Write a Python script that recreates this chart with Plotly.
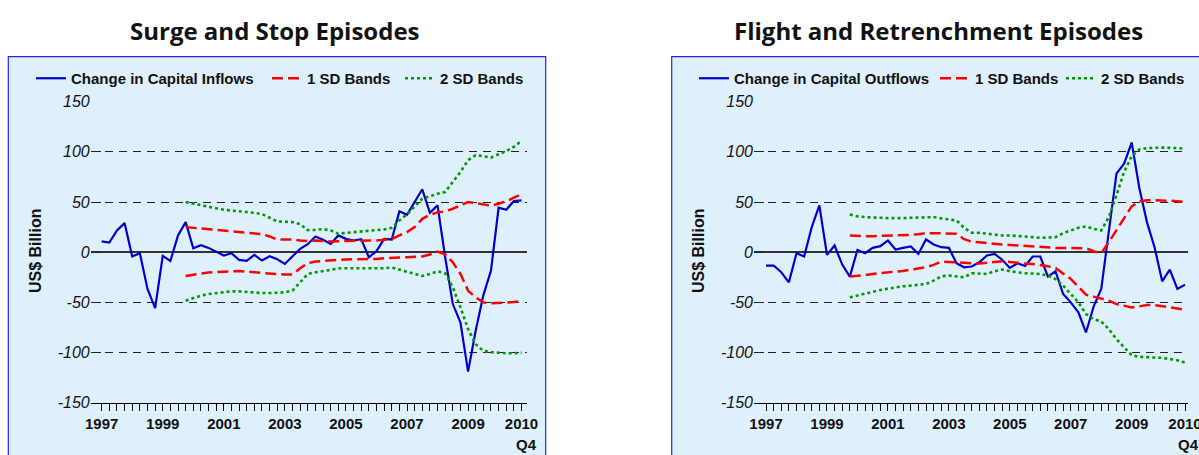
import plotly.graph_objects as go

OFF = 0                      # body margin is removed by the post script below
W, H = 1199, 455

quarters = [f"{y}Q{q}" for y in range(1997, 2011) for q in range(1, 5)]
band_quarters = quarters[11:]

tick_labels = {"1997Q1": "1997", "1999Q1": "1999", "2001Q1": "2001", "2003Q1": "2003",
               "2005Q1": "2005", "2007Q1": "2007", "2009Q1": "2009", "2010Q4": "2010"}
y_ticks = [-150, -100, -50, 0, 50, 100, 150]
y_ticktext = ["-150", "-100", "-50", "0", "50", "100", "150"]

inflows = [10.7, 9.7, 21.7, 29, -4.3, -1, -36.7, -55.7, -3.7, -8.7, 16.7, 30, 4, 7, 4.3, 0.7,
           -3.3, -1, -7.7, -8.7, -2.7, -8.3, -4, -7, -11.7, -4, 3.3, 8, 15.7, 12.3, 8.3, 16.7,
           13.3, 11.7, 13, -5, 1, 13.3, 12.7, 40.7, 37.3, 50, 62.7, 39.3, 46.7, -5, -51.7, -70,
           -119, -78, -43, -18.3, 44.3, 42.3, 51, 51.7]
in_sd1_up = [25, 24.3, 23.7, 23, 22.3, 21.7, 21, 20.3, 19.7, 19, 18, 15.7, 12.7, 12.7, 12.7, 11.7,
             11, 11.7, 11, 10.7, 11, 11.3, 11.3, 11.7, 11.7, 11.7, 12.3, 13, 16.7, 20, 25, 33.3,
             37.3, 39.7, 40.7, 43.3, 46.7, 50, 49, 47.7, 46.3, 48.3, 50.7, 54.3, 57.7]
in_sd1_lo = [-23.7, -22.3, -21.3, -20.3, -19.7, -19.3, -19, -18.7, -19, -20, -20.7, -21.3, -22,
             -22.3, -22.3, -16, -11, -9.3, -8.7, -8, -7.7, -7.3, -7, -7, -7, -6.7, -6, -5.3, -5.3,
             -5, -4.7, -4.3, -2.3, 0.7, -2.3, -10, -21.7, -38.3, -45, -50, -51, -50.7, -50.3,
             -49.7, -48.7]
in_sd2_up = [50, 48.3, 47, 45.3, 43.7, 42.3, 41.3, 40.7, 40, 39.3, 38, 34.3, 30.7, 30.3, 30, 28,
             22, 22.3, 23, 21.7, 18.3, 19.3, 20, 20.7, 21.3, 22, 22.7, 24.3, 31.7, 37.7, 45.7,
             53.3, 55.7, 58.3, 60, 70, 80, 91.7, 96.7, 95.7, 94.3, 97.7, 100.7, 105, 111]
in_sd2_lo = [-48.3, -45.7, -43.3, -41.7, -40.7, -39.7, -39, -39, -39.7, -40, -40.7, -40.7, -40.3,
             -40, -38.3, -30, -21.7, -20, -19, -17.7, -16, -16, -16, -16.3, -16.7, -16.7, -16,
             -15.3, -17.3, -19, -21.7, -23.7, -21.7, -19, -21, -35, -55, -76.7, -91.7, -98.3,
             -99.7, -100.3, -100.7, -100.7, -100.3]

outflows = [-13.3, -13.3, -20, -30, -1, -4.3, 25, 46.7, -2.7, 6.7, -12.3, -24.3, 2.3, -1, 4.3, 6,
            11.7, 2.7, 4.3, 5.7, -1.7, 12.7, 7.7, 5, 4.3, -11, -15, -14.3, -10, -3.3, -1.7, -7.5,
            -15.7, -11, -13.7, -4.3, -4.3, -24.3, -19, -41.7, -50, -60, -80, -54.3, -36.7, 20,
            78.3, 88.3, 109.3, 64, 30, 5, -29, -17.3, -36.7, -32.3]
out_sd1_up = [16.7, 16, 16, 16, 16.3, 16.3, 16.3, 16.7, 17.3, 18, 19, 19, 19, 18.7, 18.3, 13, 10.5,
              10, 9, 8.3, 7.7, 7.3, 6.7, 6.3, 5.7, 5, 4.3, 4.3, 4.3, 4.3, 4, 4, 1, -1, 10, 21.7,
              34, 45.7, 50.7, 51.7, 51.7, 51.7, 51.3, 50.7, 50]
out_sd1_lo = [-24.3, -23.7, -22.7, -21.7, -20.7, -20, -19.3, -18.7, -17.7, -16.7, -15, -12.7, -9.3,
              -9.7, -10.3, -11, -11, -11.3, -10.7, -9.7, -9, -9.7, -10.7, -11.3, -11.7, -12.7, -14,
              -15.7, -21, -26.7, -34.3, -42.3, -44.3, -46, -48.3, -51.7, -53.7, -55, -54, -52.7,
              -52.7, -53.7, -54.7, -56, -57.3]
out_sd2_up = [37.7, 35.7, 35, 34.3, 34.3, 34, 33.7, 34, 34.3, 34.7, 35, 35, 33.7, 33, 31.7, 24.3,
              19.5, 19.3, 18.3, 17.3, 16.7, 16.7, 16.3, 15.7, 15, 14.3, 14.3, 15, 19, 21.7, 24.3,
              25.7, 23.3, 21.7, 35, 56.7, 80, 95.7, 102.3, 103.7, 104.3, 104.3, 104, 103.7, 103.3]
out_sd2_lo = [-45, -43, -41, -39, -37.7, -36.3, -35, -34, -33.3, -32.7, -31.7, -28.3, -24, -23.3,
              -24, -25, -21, -21.3, -21.7, -19, -17.3, -19, -20.3, -21, -21.3, -21.7, -23.3, -26.7,
              -33.3, -41.7, -50, -61.7, -66.7, -69, -76.7, -86.7, -95, -102.7, -104.3, -105, -105,
              -105.3, -106.3, -107.7, -110]

BLUE, RED, GREEN = "#0000C8", "#FF0000", "#009A00"
BG = "#DFF0FD"
FONT = "Liberation Sans"


def px(x):
    """page pixel x -> paper fraction"""
    return (x - OFF) / W


def py(y):
    """page pixel y -> paper fraction"""
    return 1 - (y - OFF) / H


fig = go.Figure()


def add_panel(xa, ya, legs, name, main, up1, lo1, up2, lo2):
    l1, l2, l3 = legs
    fig.add_trace(go.Scatter(x=quarters, y=main, mode="lines", name=name,
                             line=dict(color=BLUE, width=2.2), xaxis=xa, yaxis=ya, legend=l1))
    fig.add_trace(go.Scatter(x=band_quarters, y=up1, mode="lines", name="1 SD Bands",
                             line=dict(color=RED, width=2.5, dash="11px,5px"),
                             xaxis=xa, yaxis=ya, legend=l2))
    fig.add_trace(go.Scatter(x=band_quarters, y=lo1, mode="lines", name="1 SD Bands",
                             line=dict(color=RED, width=2.5, dash="11px,5px"), showlegend=False,
                             xaxis=xa, yaxis=ya, legend=l2))
    fig.add_trace(go.Scatter(x=band_quarters, y=up2, mode="lines", name="2 SD Bands",
                             line=dict(color=GREEN, width=2.6, dash="3px,3px"),
                             xaxis=xa, yaxis=ya, legend=l3))
    fig.add_trace(go.Scatter(x=band_quarters, y=lo2, mode="lines", name="2 SD Bands",
                             line=dict(color=GREEN, width=2.6, dash="3px,3px"), showlegend=False,
                             xaxis=xa, yaxis=ya, legend=l3))


add_panel("x", "y", ("legend", "legend2", "legend3"), "Change in Capital Inflows",
          inflows, in_sd1_up, in_sd1_lo, in_sd2_up, in_sd2_lo)
add_panel("x2", "y2", ("legend4", "legend5", "legend6"), "Change in Capital Outflows",
          outflows, out_sd1_up, out_sd1_lo, out_sd2_up, out_sd2_lo)

ticktext = [tick_labels.get(q, "") for q in quarters]

xcommon = dict(type="category", tickmode="array", tickvals=quarters, ticktext=ticktext,
               showline=True, linecolor="#000000", linewidth=1, ticks="outside", ticklen=7,
               tickwidth=1, tickcolor="#000000", showgrid=False, zeroline=False, automargin=False,
               ticklabeloverflow="allow",
               tickfont=dict(family=FONT, size=15, color="#111111", weight="bold"))
ycommon = dict(range=[-150, 150], tickmode="array", tickvals=y_ticks, ticktext=y_ticktext,
               showgrid=True, gridcolor="#222222", gridwidth=1, griddash="8px,6px",
               zeroline=True, zerolinecolor="#333333", zerolinewidth=1.6, automargin=False,
               showline=False, ticks="inside", ticklen=10, tickcolor="#222222", tickwidth=1,
               tickfont=dict(family=FONT, size=16, color="#111111", style="italic"))

ydom = [py(402.7), py(101.7)]
legend_font = dict(family=FONT, size=15, color="#111111", weight="bold")


def leg(x):
    return dict(orientation="h", x=px(x), y=py(62), xanchor="left", yanchor="top",
                bgcolor="rgba(0,0,0,0)", font=legend_font, itemwidth=30)


fig.update_layout(
    width=W, height=H, autosize=False,
    margin=dict(l=0, r=0, t=0, b=0, pad=0),
    paper_bgcolor="white", plot_bgcolor="rgba(0,0,0,0)",
    xaxis=dict(domain=[px(90.7), px(526.7)], range=[-1.44, 55.68], anchor="y", **xcommon),
    yaxis=dict(domain=ydom, anchor="x", **ycommon),
    xaxis2=dict(domain=[px(754), px(1188.3)], range=[-1.58, 55.43], anchor="y2", **xcommon),
    yaxis2=dict(domain=ydom, anchor="x2", **ycommon),
    legend=leg(31), legend2=leg(267), legend3=leg(400),
    legend4=leg(694), legend5=leg(935), legend6=leg(1061),
    showlegend=True,
)

shapes = [
    dict(type="rect", xref="paper", yref="paper", x0=px(8.3), x1=px(545.7), y0=-0.2, y1=py(56.7),
         fillcolor=BG, line=dict(color="#2020FF", width=1.2), layer="below"),
    dict(type="rect", xref="paper", yref="paper", x0=px(671.7), x1=px(1215), y0=-0.2, y1=py(56.7),
         fillcolor=BG, line=dict(color="#2020FF", width=1.2), layer="below"),
]
fig.update_layout(shapes=shapes)


def note(text, x, y, size, family=FONT, xanchor="center", angle=0):
    return dict(text=text, x=px(x), y=py(y), xref="paper", yref="paper", showarrow=False,
                xanchor=xanchor, yanchor="middle", textangle=angle,
                font=dict(family=family, size=size, color="#111111"))


ann = [
    note("<b>Surge and Stop Episodes</b>", 275, 31, 24, family="Open Sans"),
    note("<b>Flight and Retrenchment Episodes</b>", 938, 31, 24, family="Open Sans"),
    note("<b>US$ Billion</b>", 35, 251, 16, angle=-90),
    note("<b>US$ Billion</b>", 698, 251, 16, angle=-90),
    note("<b>Q4</b>", 538.5, 444, 15, xanchor="right"),
    note("<b>Q4</b>", 1201, 444, 15, xanchor="right"),
]
fig.update_layout(annotations=ann)

page_css = ("document.body.style.margin='0px';"
            "document.body.style.overflow='hidden';"
            "document.documentElement.style.overflow='hidden';")

fig.write_html("out.html", post_script=page_css, config={"displayModeBar": False})
